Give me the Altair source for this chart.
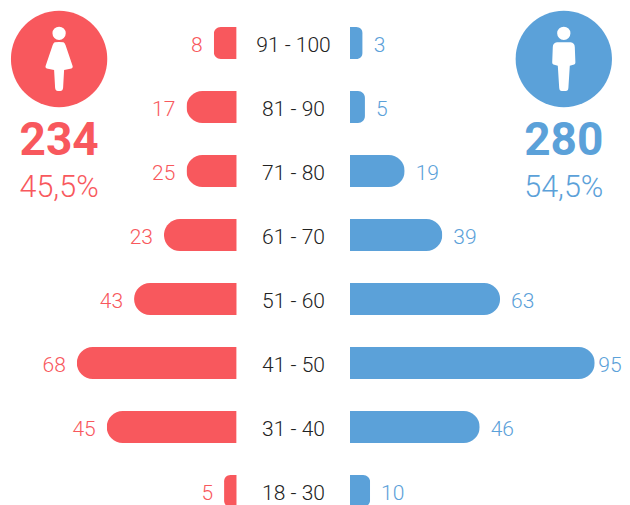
import altair as alt
import pandas as pd

RED = "#F8585D"
BLUE = "#5BA1D9"
FONT = "Roboto"

age_bands = ["91 - 100", "81 - 90", "71 - 80", "61 - 70", "51 - 60", "41 - 50", "31 - 40", "18 - 30"]
women_labels = [8, 17, 25, 23, 43, 68, 45, 5]
men_labels = [3, 5, 19, 39, 63, 95, 46, 10]
# Bar lengths as drawn in the picture (they do not follow the printed numbers exactly)
women_drawn = [8.9, 19.5, 19.5, 28.2, 39.8, 62.0, 50.4, 4.9]
men_drawn = [4.9, 5.8, 21.2, 35.8, 58.2, 94.9, 50.3, 7.8]
totals = {"women": "234", "men": "280"}
shares = {"women": "45,5%", "men": "54,5%"}

WOMAN = ("M-0.11 -0.42 Q0 -0.43 0.11 -0.42 Q0.14 -0.41 0.16 -0.35 L0.34 0.18 Q0.35 0.22 0.31 0.235 "
         "L0.125 0.275 L0.1 0.72 Q0.09 0.8 0.03 0.8 L-0.03 0.8 Q-0.09 0.8 -0.1 0.72 L-0.125 0.275 "
         "L-0.31 0.235 Q-0.35 0.22 -0.34 0.18 L-0.16 -0.35 Q-0.14 -0.41 -0.11 -0.42 Z")
MAN = ("M-0.17 -0.42 L0.17 -0.42 Q0.27 -0.41 0.275 -0.3 L0.29 0.09 Q0.29 0.13 0.26 0.14 L0.15 0.17 "
       "L0.115 0.72 Q0.11 0.8 0.05 0.8 L-0.05 0.8 Q-0.11 0.8 -0.115 0.72 L-0.15 0.17 L-0.26 0.14 "
       "Q-0.29 0.13 -0.29 0.09 L-0.275 -0.3 Q-0.27 -0.41 -0.17 -0.42 Z")

women = pd.DataFrame({"band": age_bands, "len": women_drawn, "label": women_labels})
men = pd.DataFrame({"band": age_bands, "len": men_drawn, "label": men_labels})
centre = pd.DataFrame({"band": age_bands})
summary_w = pd.DataFrame({"total": [totals["women"]], "share": [shares["women"]]})
summary_m = pd.DataFrame({"total": [totals["men"]], "share": [shares["men"]]})

y_enc = alt.Y("band:N", sort=age_bands, axis=None,
              scale=alt.Scale(type="band", domain=age_bands, range=[3, 515],
                              paddingInner=0.5, paddingOuter=0.25))
x_left = alt.X("len:Q", axis=None, scale=alt.Scale(domain=[0, 95], range=[228.7, -16.3], nice=False))
x_right = alt.X("len:Q", axis=None, scale=alt.Scale(domain=[0, 95], range=[342, 587], nice=False))

SMALL = 15
LONGEST = 90


def side(df, x_enc, colour, is_left):
    def corners(r):
        if is_left:
            return dict(cornerRadiusTopLeft=r, cornerRadiusBottomLeft=r)
        return dict(cornerRadiusTopRight=r, cornerRadiusBottomRight=r)

    base = alt.Chart(df)
    long_bars = base.transform_filter(f"datum.len > {SMALL}").mark_bar(color=colour, **corners(16)).encode(
        x=x_enc, y=y_enc)
    short_bars = base.transform_filter(f"datum.len <= {SMALL}").mark_bar(color=colour, **corners(7)).encode(
        x=x_enc, y=y_enc)
    labels = base.transform_filter(f"datum.len <= {LONGEST}").mark_text(
        font=FONT, fontSize=21, fontWeight=300, color=colour, baseline="middle", dy=2.5,
        align="right" if is_left else "left", dx=-11 if is_left else 11,
    ).encode(x=x_enc, y=y_enc, text=alt.Text("label:N"))
    # the longest bar's label is pulled in so that it stays inside the page
    last = base.transform_filter(f"datum.len > {LONGEST}").mark_text(
        font=FONT, fontSize=21, fontWeight=300, color=colour, baseline="middle", dy=2.5,
        align="left", dx=3.5,
    ).encode(x=x_enc, y=y_enc, text=alt.Text("label:N"))
    return [long_bars, short_bars, labels, last]


def badge(df, cx, colour, shape):
    base = alt.Chart(df)
    disc = base.mark_circle(color=colour, opacity=1, size=9280).encode(x=alt.value(cx), y=alt.value(51))
    head = base.mark_circle(color="white", opacity=1, size=177).encode(x=alt.value(cx), y=alt.value(25.3))
    body = base.mark_point(shape=shape, filled=True, color="white", opacity=1, size=6400, strokeWidth=0).encode(
        x=alt.value(cx), y=alt.value(51))
    total = base.mark_text(font=FONT, fontSize=46, fontWeight="bold", color=colour, baseline="middle").encode(
        x=alt.value(cx), y=alt.value(132.5), text="total:N")
    share = base.mark_text(font=FONT, fontSize=30.5, fontWeight=300, color=colour, baseline="middle").encode(
        x=alt.value(cx), y=alt.value(180), text="share:N")
    return [disc, head, body, total, share]


centre_text = alt.Chart(centre).mark_text(
    font=FONT, fontSize=21, fontWeight=300, color="#222222", baseline="middle", dy=2.5
).encode(x=alt.value(285.5), y=y_enc, text="band:N")

chart = alt.layer(
    *side(women, x_left, RED, True),
    *side(men, x_right, BLUE, False),
    centre_text,
    *badge(summary_w, 51.1, RED, WOMAN),
    *badge(summary_m, 555.8, BLUE, MAN),
).resolve_scale(x="independent").properties(
    width=614, height=497, padding=0,
    autosize=alt.AutoSizeParams(type="none"),
).configure_view(stroke=None)

chart.save("out.html", embed_options={"renderer": "svg", "actions": False})
